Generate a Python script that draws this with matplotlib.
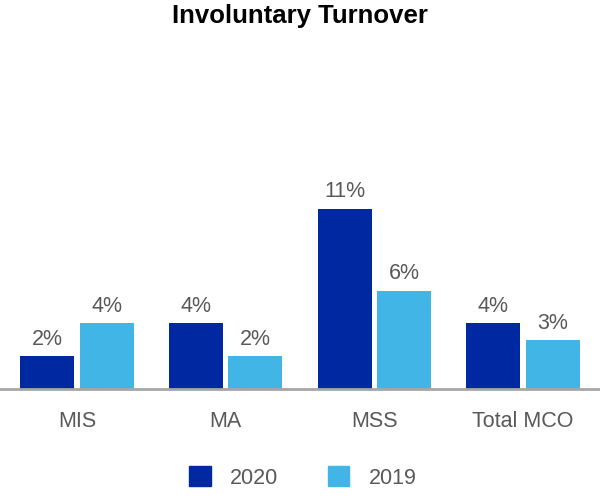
import matplotlib
matplotlib.use("Agg")
import matplotlib.pyplot as plt
import numpy as np
from matplotlib.patches import Patch

plt.rcParams['font.family'] = ['Liberation Sans', 'DejaVu Sans']

categories = ["MIS", "MA", "MSS", "Total MCO"]
series_names = ["2020", "2019"]
values_2020 = [2, 4, 11, 4]
values_2019 = [4, 2, 6, 3]

c2020 = "#0028A0"
c2019 = "#41B6E6"
txt = "#595959"

fig = plt.figure(figsize=(6, 5), dpi=100)
ax = fig.add_axes([0.0, 0.222, 1.0, 0.656])

x = np.arange(len(categories))
w = 0.363
b1 = ax.bar(x - 0.2, values_2020, w, color=c2020)
b2 = ax.bar(x + 0.2, values_2019, w, color=c2019)

for bars, vals in ((b1, values_2020), (b2, values_2019)):
    for rect, v in zip(bars, vals):
        ax.annotate(f"{v}%", (rect.get_x() + rect.get_width() / 2, rect.get_height()),
                    xytext=(0, 4.5), textcoords="offset points", ha="center", va="bottom",
                    fontsize=15.5, color=txt)

ax.set_xlim(-0.518, 3.518)
ax.set_ylim(0, 20)
ax.set_xticks(x)
ax.set_xticklabels(categories, fontsize=15.5, color=txt)
ax.tick_params(axis='x', length=0, pad=16)
ax.set_yticks([])
for s in ["top", "right", "left"]:
    ax.spines[s].set_visible(False)
ax.spines["bottom"].set_color("#A6A6A6")
ax.spines["bottom"].set_linewidth(2)

fig.text(0.5, 0.969, "Involuntary Turnover", ha="center", va="center",
         fontsize=18.5, fontweight="bold", color="black")

handles = [Patch(color=c2020), Patch(color=c2019)]
fig.legend(handles, series_names, loc="center", bbox_to_anchor=(0.505, 0.045), ncol=2,
           frameon=False, fontsize=15.5, handlelength=1.0, handleheight=1.0,
           columnspacing=2.3, handletextpad=0.9, labelcolor=txt)

fig.savefig("out.png", dpi=100)
